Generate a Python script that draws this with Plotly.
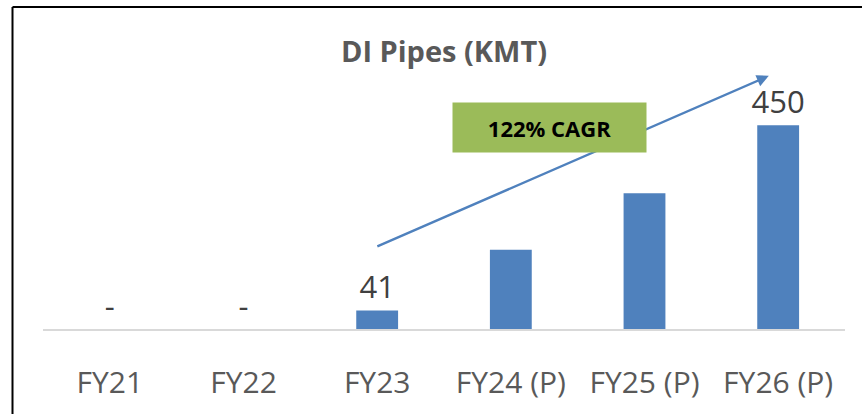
import plotly.graph_objects as go

# data
categories = ["FY21", "FY22", "FY23", "FY24 (P)", "FY25 (P)", "FY26 (P)"]
volumes = [0, 0, 41, 175, 300, 450]
bar_labels = ["-", "-", "41", "", "", "450"]
cagr_text = "122% CAGR"

BLUE = "#4F81BD"
GREEN = "#9BBB59"
FONT = "Open Sans"

W, H = 862, 414
ML, MR, MT, MB = 43, 17, 60, 82
Y_MAX = 594

fig = go.Figure()

fig.add_trace(
    go.Bar(
        x=categories,
        y=volumes,
        marker=dict(color=BLUE, line=dict(width=0)),
        text=bar_labels,
        textposition="outside",
        constraintext="none",
        textfont=dict(family=FONT, size=31, color="#404040"),
        cliponaxis=False,
        hoverinfo="skip",
    )
)

# trend arrow (category index / value units)
fig.add_annotation(
    x=4.93, y=559, ax=1.99, ay=181,
    xref="x", yref="y", axref="x", ayref="y",
    text="", showarrow=True,
    arrowhead=2, arrowsize=1.0, arrowwidth=2.4, arrowcolor=BLUE,
)

# green CAGR box
pw, ph = W - ML - MR, H - MT - MB
fig.add_annotation(
    x=(549.5 - ML) / pw, y=(H - MB - 128.5) / ph, xref="paper", yref="paper",
    xanchor="center", yanchor="middle",
    text="<b>" + cagr_text + "</b>", showarrow=False,
    bgcolor=GREEN, width=193, height=49, borderpad=0,
    font=dict(family=FONT, size=22, color="#000000"),
)

# outer frame (only top and left edges are visible in the crop)
fx = (12.5 - ML) / pw
fy = (H - MB - 6.5) / ph
fig.add_shape(type="line", xref="paper", yref="paper",
              x0=fx, x1=1.1, y0=fy, y1=fy, line=dict(color="#000000", width=2))
fig.add_shape(type="line", xref="paper", yref="paper",
              x0=fx, x1=fx, y0=fy, y1=-0.5, line=dict(color="#000000", width=2))

fig.update_layout(
    width=W, height=H,
    margin=dict(l=ML, r=MR, t=MT, b=MB),
    paper_bgcolor="white", plot_bgcolor="white",
    showlegend=False,
    bargap=0.687,
    title=dict(
        text="<b>DI Pipes (KMT)</b>",
        x=444 / W, xref="container", xanchor="center",
        y=1 - 52 / H, yref="container", yanchor="middle",
        font=dict(family=FONT, size=29, color="#595959"),
    ),
)

fig.update_xaxes(
    showline=True, linecolor="#D9D9D9", linewidth=1.5,
    showgrid=False, ticks="", ticklabelstandoff=26,
    tickfont=dict(family=FONT, size=30, color="#595959"),
)
fig.update_yaxes(visible=False, range=[0, Y_MAX], showgrid=False)

# drop the default 8px page margin so the figure sits at the window corner
fig.write_html("out.html", config={"displayModeBar": False},
               post_script="document.body.style.margin='0';")
